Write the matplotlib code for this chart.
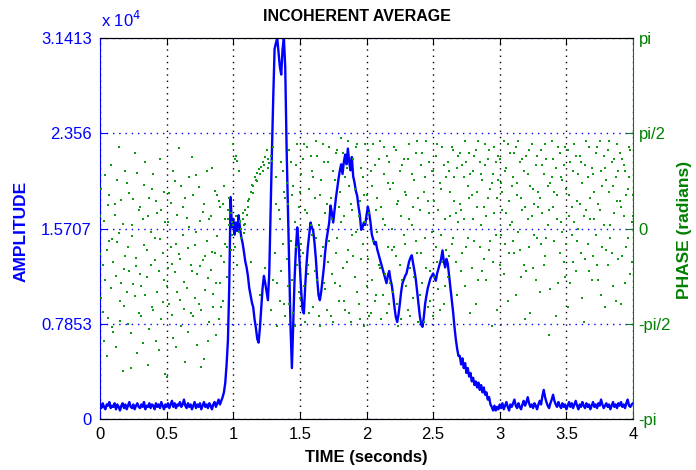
import numpy as np
import matplotlib.pyplot as plt

plt.rcParams['font.family'] = ['Liberation Sans', 'DejaVu Sans']

nan = float('nan')

# amplitude (x 10^4), one value every 0.01 s from 0 to 4 s
amp = [
    0.12, 0.09, 0.13, 0.10, 0.08, 0.12, 0.11, 0.14, 0.09, 0.11,
    0.10, 0.13, 0.08, 0.12, 0.10, 0.07, 0.11, 0.13, 0.09, 0.12,
    0.08, 0.11, 0.14, 0.10, 0.09, 0.12, 0.08, 0.11, 0.13, 0.10,
    0.09, 0.12, 0.10, 0.14, 0.08, 0.11, 0.10, 0.13, 0.09, 0.12,
    0.11, 0.08, 0.13, 0.10, 0.12, 0.09, 0.14, 0.11, 0.08, 0.12,
    0.10, 0.13, 0.09, 0.12, 0.15, 0.10, 0.13, 0.09, 0.12, 0.11,
    0.14, 0.10, 0.12, 0.16, 0.11, 0.09, 0.13, 0.10, 0.12, 0.08,
    0.11, 0.14, 0.09, 0.12, 0.10, 0.13, 0.08, 0.11, 0.14, 0.10,
    0.12, 0.09, 0.13, 0.11, 0.08, 0.12, 0.14, 0.10, 0.13, 0.16,
    0.12, 0.15, 0.18, 0.22, 0.30, 0.45, 0.65, 1.10, 1.83, 1.58,
    1.65, 1.52, 1.62, 1.55, 1.68, 1.58, 1.50, 1.45, 1.38, 1.30,
    1.25, 1.18, 1.08, 1.02, 0.96, 0.92, 0.82, 0.75, 0.66, 0.63,
    0.75, 0.92, 1.08, 1.18, 1.12, 1.05, 0.98, 1.20, 1.70, 2.20,
    2.65, 3.05, 3.10, 3.14, 3.02, 2.90, 2.84, 3.05, 3.14, 2.90,
    2.25, 1.75, 1.25, 0.75, 0.42, 0.80, 1.15, 1.40, 1.58, 1.45,
    1.25, 1.05, 0.90, 0.87, 1.10, 1.28, 1.42, 1.52, 1.62, 1.58,
    1.55, 1.45, 1.32, 1.15, 1.02, 0.98, 1.05, 1.15, 1.25, 1.38,
    1.48, 1.55, 1.62, 1.76, 1.70, 1.62, 1.72, 1.82, 1.90, 1.98,
    2.05, 2.10, 2.02, 2.12, 2.18, 2.10, 2.23, 2.12, 2.05, 2.16,
    2.00, 1.95, 1.88, 1.84, 1.75, 1.68, 1.56, 1.58, 1.62, 1.60,
    1.68, 1.75, 1.70, 1.62, 1.52, 1.48, 1.44, 1.46, 1.40, 1.36,
    1.32, 1.28, 1.24, 1.20, 1.16, 1.12, 1.18, 1.22, 1.15, 1.10,
    1.02, 0.92, 0.84, 0.80, 0.86, 0.95, 1.05, 1.12, 1.15, 1.18,
    1.20, 1.25, 1.30, 1.33, 1.35, 1.28, 1.22, 1.15, 1.05, 0.95,
    0.85, 0.78, 0.76, 0.84, 0.95, 1.02, 1.08, 1.12, 1.16, 1.18,
    1.20, 1.17, 1.14, 1.20, 1.24, 1.28, 1.32, 1.39, 1.30, 1.25,
    1.32, 1.28, 1.18, 1.08, 0.98, 0.88, 0.76, 0.66, 0.58, 0.52,
    0.52, 0.45, 0.50, 0.42, 0.46, 0.38, 0.42, 0.35, 0.38, 0.31,
    0.34, 0.28, 0.31, 0.26, 0.30, 0.24, 0.28, 0.22, 0.26, 0.20,
    0.22, 0.16, 0.18, 0.12, 0.10, 0.07, 0.11, 0.07, 0.10, 0.08,
    0.12, 0.09, 0.13, 0.08, 0.11, 0.14, 0.10, 0.07, 0.12, 0.10,
    0.13, 0.16, 0.11, 0.09, 0.13, 0.10, 0.08, 0.12, 0.15, 0.11,
    0.14, 0.18, 0.13, 0.10, 0.12, 0.09, 0.13, 0.11, 0.08, 0.12,
    0.15, 0.12, 0.19, 0.24, 0.18, 0.14, 0.11, 0.09, 0.13, 0.16,
    0.20, 0.15, 0.12, 0.10, 0.14, 0.11, 0.09, 0.13, 0.10, 0.12,
    0.08, 0.11, 0.14, 0.10, 0.13, 0.09, 0.12, 0.15, 0.11, 0.08,
    0.12, 0.10, 0.14, 0.11, 0.09, 0.13, 0.10, 0.12, 0.08, 0.11,
    0.14, 0.10, 0.12, 0.09, 0.13, 0.11, 0.16, 0.12, 0.09, 0.11,
    0.13, 0.10, 0.12, 0.08, 0.11, 0.14, 0.10, 0.12, 0.09, 0.13,
    0.11, 0.14, 0.10, 0.12, 0.09, 0.13, 0.16, 0.11, 0.10, 0.12,
    0.13,
]

# phase (radians), two estimates per time sample
phase_a = [
    -0.42, 0.65, -1.38, 0.12, -0.85, -2.10, 0.38, -0.20, 1.05, -1.62,
    -0.55, 0.22, -1.95, 0.80, -0.08, -1.20, 0.47, -2.35, -0.66, 0.95,
    -1.05, -0.30, 0.58, -1.72, 0.05, -0.92, 1.25, -0.48, -2.05, 0.30,
    -0.75, -1.45, 0.15, 0.72, -1.10, -0.35, -2.25, 0.50, -0.60, -1.30,
    0.90, -0.15, -1.85, 0.25, -0.70, 1.15, -1.50, -0.40, 0.60, -2.40,
    -0.95, 0.10, -1.25, 0.42, -0.58, -1.80, 0.78, -0.25, -1.05, 1.32,
    -0.50, -1.60, 0.35, -0.88, -2.20, 0.18, -0.32, 0.85, -1.40, -0.70,
    0.55, -1.15, -0.05, -1.92, 0.68, -0.62, -1.35, 0.28, -2.15, -0.45,
    0.95, -0.82, -1.55, 0.20, -0.38, -1.08, 0.62, -1.75, -0.12, 0.45,
    -0.90, -1.30, 0.40, -0.55, 0.15, -0.30, 0.30, 0.05, 0.25, -0.10,
    0.05, 1.15, 1.20, 1.12, -0.05, 0.10, 0.00, 0.15, -0.08, 0.08,
    0.22, 0.35, 0.48, 0.60, 0.72, 0.70, 0.85, 0.80, 0.92, 0.98,
    0.90, 1.02, 1.10, 1.05, 1.18, 1.30, 1.15, 1.08, 1.20, 1.12,
    1.35, -0.40, 0.85, -0.90, 0.30, -1.20, 1.10, -0.25, 0.60, -1.45,
    0.75, -0.95, 1.30, -0.20, 0.55, -1.40, 0.10, 1.05, -0.60, 0.35,
    -1.15, 0.90, -0.40, 1.40, -1.55, 0.25, -0.75, 0.65, 1.20, -0.10,
    -1.30, 0.50, 1.45, -0.85, 0.05, -1.60, 0.80, -0.30, 1.10, -1.00,
    0.40, -0.55, 1.35, -1.45, 0.15, 0.95, -0.90, 1.25, -0.15, -1.20,
    0.60, 1.50, -0.65, 0.20, -1.35, 1.00, -0.35, 0.70, -1.55, 0.30,
    1.15, -0.80, -0.05, 1.40, -1.25, 0.45, -0.50, 0.85, -1.60, 0.10,
    -0.95, 1.30, 0.25, -1.40, 0.70, -0.20, 1.05, -1.10, 0.50, -0.60,
    1.45, -1.50, 0.15, 0.90, -0.75, 1.20, -0.30, -1.25, 0.65, 0.00,
    -1.05, 1.35, -0.45, 0.40, -1.60, 0.95, 0.20, -0.85, 1.15, -0.25,
    0.55, -1.35, 1.40, -0.65, 0.05, -1.15, 0.80, 1.25, -0.40, -1.55,
    0.30, 1.05, -0.90, 0.60, -0.15, 1.45, -1.30, 0.25, -0.70, 0.95,
    -1.45, 0.45, 1.20, -0.55, -1.00, 0.75, -0.10, 1.35, -1.25, 0.15,
    0.85, 1.10, -0.45, 0.60, 1.35, -0.15, 0.85, 0.25, -1.10, 1.20,
    0.40, -0.70, 1.05, 0.15, 1.45, -0.30, 0.70, 1.25, -1.40, 0.55,
    0.95, -0.20, 1.30, 0.35, -0.85, 1.10, 0.05, 0.80, -0.50, 1.40,
    0.20, 1.15, -0.35, 0.65, -1.60, 0.90, 1.35, -0.10, 0.50, 1.20,
    -0.60, 0.75, 0.30, 1.45, -0.25, 1.00, -1.20, 0.45, 1.25, 0.10,
    0.85, -0.40, 1.35, 0.55, -0.05, 1.10, -0.80, 0.30, 0.95, -1.50,
    1.20, 0.15, -0.30, 0.70, 1.40, -0.65, 0.40, 1.05, -0.15, 0.60,
    -1.05, 1.30, 0.25, 0.90, -0.45, 1.15, 0.05, -1.75, 0.75, 1.45,
    0.35, -0.20, 1.00, 0.55, -0.90, 1.25, 0.10, 0.80, -0.55, 1.35,
    0.65, -1.30, 0.20, 1.10, -0.10, 0.95, 1.40, -0.70, 0.45, 0.00,
    1.20, -0.40, 0.75, -1.55, 1.05, 0.30, -0.25, 1.35, 0.50, -0.85,
    0.90, 0.15, 1.25, -0.60, 0.40, 1.45, -1.10, 0.70, 0.05, 1.00,
    -0.35, 1.30, 0.60, -0.15, 1.10, -0.95, 0.25, 0.85, 1.40, -0.50,
    0.45, -1.25, 1.15, 0.20, 0.95, -0.30, 0.65, 1.35, -0.75, 0.10,
    0.55,
]

phase_b = [
    0.20, -1.15, -0.60, -1.85, 0.88, -0.35, -1.48, 0.55, -0.98, -0.18,
    -1.70, 0.40, -0.78, -0.22, 1.35, -1.52, -0.90, 0.08, -1.28, -0.45,
    0.75, -1.58, -0.70, -2.30, -0.12, 0.48, -1.12, -0.62, 0.92, -1.40,
    0.35, -0.95, -1.88, -0.28, 1.10, -0.80, 0.20, -1.65, -0.05, 0.65,
    -1.35, -0.52, 0.45, -1.05, -2.00, -0.18, 0.30, -1.22, -0.85, 0.10,
    -2.45, -0.65, 0.58, -0.30, -1.42, 0.95, -0.72, -1.95, 0.22, -0.42,
    -1.18, 0.70, -0.10, -1.32, 0.50, -0.98, -1.70, 0.02, -0.60, 1.18,
    -1.45, -0.28, 0.88, -0.75, -1.25, 0.12, -2.28, -0.52, 0.40, -1.02,
    -0.20, -1.85, 0.15, -0.68, 1.00, -1.30, -0.40, -0.90, 0.55, -1.50,
    0.35, -0.45, -1.20, 0.70, -0.25, -0.80, 0.15, 0.50, -0.35, 0.10,
    1.40, -0.30, 0.20, -0.60, 0.95, 0.12, -0.15, 0.25, 0.05, 0.30,
    nan, 0.45, nan, -0.55, nan, 0.58, nan, nan, 0.78, nan,
    -1.10, nan, 0.95, nan, -0.65, nan, 1.00, nan, -1.35, nan,
    -0.85, nan, 0.40, -1.60, nan, 0.15, -0.70, 0.95, -1.25, 0.50,
    -0.50, 0.40, -1.25, 1.10, -0.85, 0.70, -1.60, -0.30, 1.40, -1.05,
    0.60, -0.25, 1.15, -0.95, 0.30, 1.35, -0.60, -1.40, 0.05, 0.95,
    0.85, -0.70, -0.15, 1.20, -1.45, 0.55, -0.45, 1.40, -0.90, 0.25,
    -1.35, 1.10, -0.20, 0.50, -0.75, -1.55, 0.80, -0.40, 1.30, 0.35,
    -0.95, 0.10, 1.25, -1.20, 0.85, -0.55, 1.45, -1.40, 0.40, -0.10,
    -0.45, 0.65, 1.35, -1.05, 0.20, -1.50, 1.00, -0.25, 0.55, 1.40,
    0.55, -0.50, -1.45, 0.95, -0.85, 1.40, -1.20, 0.30, -0.05, 1.15,
    -0.65, 0.35, -1.10, 1.35, 0.05, -1.40, 0.75, 1.10, -0.90, -0.35,
    0.75, -0.30, 1.30, -1.25, 0.45, -0.60, -1.50, 1.05, -0.10, 0.60,
    -0.95, 1.15, 0.15, -1.45, 0.90, 0.35, -0.80, -0.20, 1.45, 0.50,
    -1.10, -0.40, 1.25, -1.55, 0.85, -0.65, 0.45, 1.10, -1.20, -0.05,
    0.95, -0.80, -0.30, 1.40, 0.30, -1.35, 0.65, -0.55, 1.05, -0.95,
    -0.35, -0.80, 0.95, 0.20, -0.25, 1.30, 0.45, -0.55, 1.00, 0.10,
    1.25, 0.30, -0.40, 0.85, -0.95, 1.10, -0.15, 0.50, 0.90, -0.65,
    0.15, 1.20, -1.25, 0.60, 1.45, -0.30, 0.90, -0.70, 0.35, 1.05,
    -0.85, 0.50, 1.30, -0.20, 0.75, -0.55, 0.25, 1.10, -1.35, 0.80,
    1.15, -0.10, 0.60, -0.75, 0.95, 0.25, 1.40, -0.40, 0.05, 0.70,
    -0.20, 1.25, -1.10, 0.75, 1.45, -0.35, 0.50, 1.15, -0.60, 0.35,
    -0.70, 0.90, 1.30, -1.40, 0.20, 0.65, -0.10, -0.85, 1.20, 0.35,
    0.50, -0.25, 1.05, -0.60, 1.40, -0.15, 0.70, 0.30, -1.00, 0.85,
    1.15, 0.60, -1.45, 0.15, 1.35, -0.40, 0.85, -0.05, 1.05, -0.80,
    -0.25, 1.30, 0.55, -0.90, 0.35, -0.55, 0.10, 1.20, -0.20, 0.90,
    0.40, 1.10, -1.15, 0.20, -0.50, 1.45, 0.85, -0.70, 0.15, 1.00,
    -0.45, 0.60, -0.10, 1.35, -0.85, 0.30, 0.95, -0.30, 1.20, -1.30,
    0.80, -0.60, 1.45, 0.05, -0.40, 0.70, 1.15, -1.20, 0.45, 0.95,
    1.25, 0.35, -0.45, 1.05, -0.90, 0.55, -0.15, 0.85, 1.30, -0.55,
    0.20,
]

time_ticks = [0, 0.5, 1, 1.5, 2, 2.5, 3, 3.5, 4]
time_labels = ['0', '0.5', '1', '1.5', '2', '2.5', '3', '3.5', '4']
amp_ticks = [0, 0.7853, 1.5707, 2.356, 3.1413]
amp_labels = ['0', '0.7853', '1.5707', '2.356', '3.1413']
phase_ticks = [-np.pi, -np.pi / 2, 0, np.pi / 2, np.pi]
phase_labels = ['-pi', '-pi/2', '0', 'pi/2', 'pi']

blue = '#0000ff'
green = '#008000'

t = np.linspace(0, 4, len(amp))

fig = plt.figure(figsize=(6.96, 4.70), dpi=100)
ax1 = fig.add_axes([0.1437, 0.1085, 0.7658, 0.8106])
ax2 = ax1.twinx()

ax1.plot(t, amp, color=blue, lw=1.7, zorder=3)
ax2.plot(t, phase_a, ls='none', marker='s', ms=1.8, mew=0, color='#119911')
ax2.plot(t, phase_b, ls='none', marker='s', ms=1.8, mew=0, color='#119911')

ax1.set_xlim(0, 4)
ax1.set_ylim(0, 3.1413)
ax2.set_ylim(-np.pi, np.pi)

ax1.set_xticks(time_ticks)
ax1.set_xticklabels(time_labels)
ax1.set_yticks(amp_ticks)
ax1.set_yticklabels(amp_labels)
ax2.set_yticks(phase_ticks)
ax2.set_yticklabels(phase_labels)

# matlab-like grid: black vertical, blue horizontal
ax1.xaxis.grid(True, color='black', ls=(0, (1, 3.5)), lw=1.0)
ax1.yaxis.grid(True, color=blue, ls=(0, (1, 3.5)), lw=1.0)

ax1.tick_params(axis='x', direction='in', top=True, length=5, labelsize=12,
                pad=6, colors='black')
ax1.tick_params(axis='y', direction='in', length=5, labelsize=12, pad=6,
                colors=blue)
ax2.tick_params(axis='y', direction='in', length=5, labelsize=12, pad=4,
                colors=green)

ax1.spines['left'].set_color(blue)
ax1.spines['right'].set_visible(False)
ax2.spines['left'].set_visible(False)
ax2.spines['right'].set_color(green)
for ax in (ax1, ax2):
    ax.spines['top'].set_color('black')
    ax.spines['bottom'].set_color('black')

fig.text(0.513, 0.964, 'INCOHERENT AVERAGE', ha='center', va='center',
         fontsize=11.5, fontweight='bold')
fig.text(0.145, 0.936, r'x 10$^{4}$', ha='left', va='bottom',
         fontsize=12, color=blue)
fig.text(0.030, 0.508, 'AMPLITUDE', rotation=90, ha='center', va='center',
         fontsize=12.5, fontweight='bold', color=blue)
fig.text(0.984, 0.51, 'PHASE (radians)', rotation=90, ha='center',
         va='center', fontsize=12.5, fontweight='bold', color=green)
fig.text(0.526, 0.026, 'TIME (seconds)', ha='center', va='center',
         fontsize=12, fontweight='bold')

fig.savefig('out.png', dpi=100)
